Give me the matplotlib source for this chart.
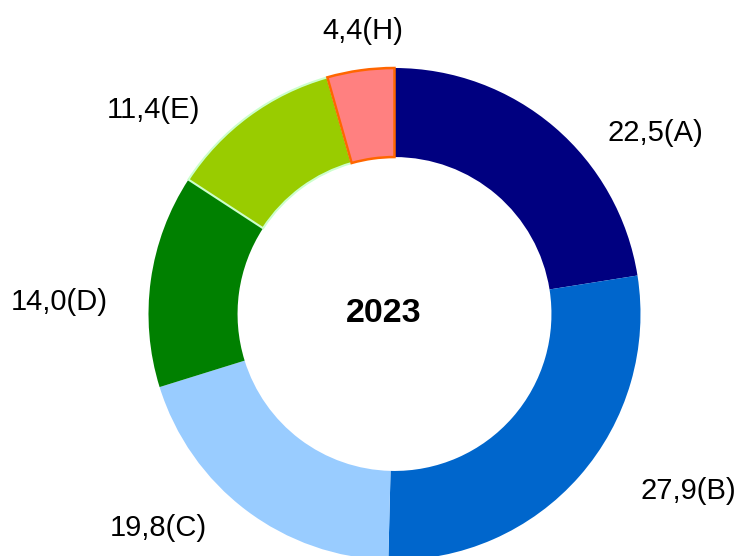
import matplotlib
matplotlib.use("Agg")
import matplotlib.pyplot as plt

categories = ["A", "B", "C", "D", "E", "H"]
values = [22.5, 27.9, 19.8, 14.0, 11.4, 4.4]
colors = ["#000080", "#0066CC", "#99CCFF", "#008000", "#99CC00", "#FF8080"]
edgecolors = ["none", "none", "none", "none", "#CCFFCC", "#FF6600"]
edgewidths = [0, 0, 0, 0, 1.5, 1.8]
center_label = "2023"

# label positions in pixel coords (x, y from top)
label_pos = [(655, 133), (688, 491), (158, 528), (59, 302), (153, 110), (363, 31)]

W, H = 738, 556
fig = plt.figure(figsize=(W / 100, H / 100), dpi=100)
ax = fig.add_axes([0, 0, 1, 1])

cx, cy = 394.5, H - 314
R = 246
wedges, _ = ax.pie(values, colors=colors, startangle=90, counterclock=False,
                   center=(cx, cy), radius=R, frame=True,
                   wedgeprops=dict(width=R * 0.362))
for w, ec, lw in zip(wedges, edgecolors, edgewidths):
    if ec != "none":
        w.set_edgecolor(ec)
        w.set_linewidth(lw)
    else:
        w.set_linewidth(0)
ax.set_xlim(0, W)
ax.set_ylim(0, H)
ax.set_aspect("equal")
ax.axis("off")

for cat, v, (px, py) in zip(categories, values, label_pos):
    txt = f"{v:.1f}".replace(".", ",") + f"({cat})"
    ax.text(px, H - py, txt, ha="center", va="center", fontsize=21,
            family="Liberation Sans", color="black")

ax.text(384, H - 313, center_label, ha="center", va="center", fontsize=24.5,
        fontweight="bold", family="Liberation Sans", color="black")

fig.savefig("out.png", dpi=100)
